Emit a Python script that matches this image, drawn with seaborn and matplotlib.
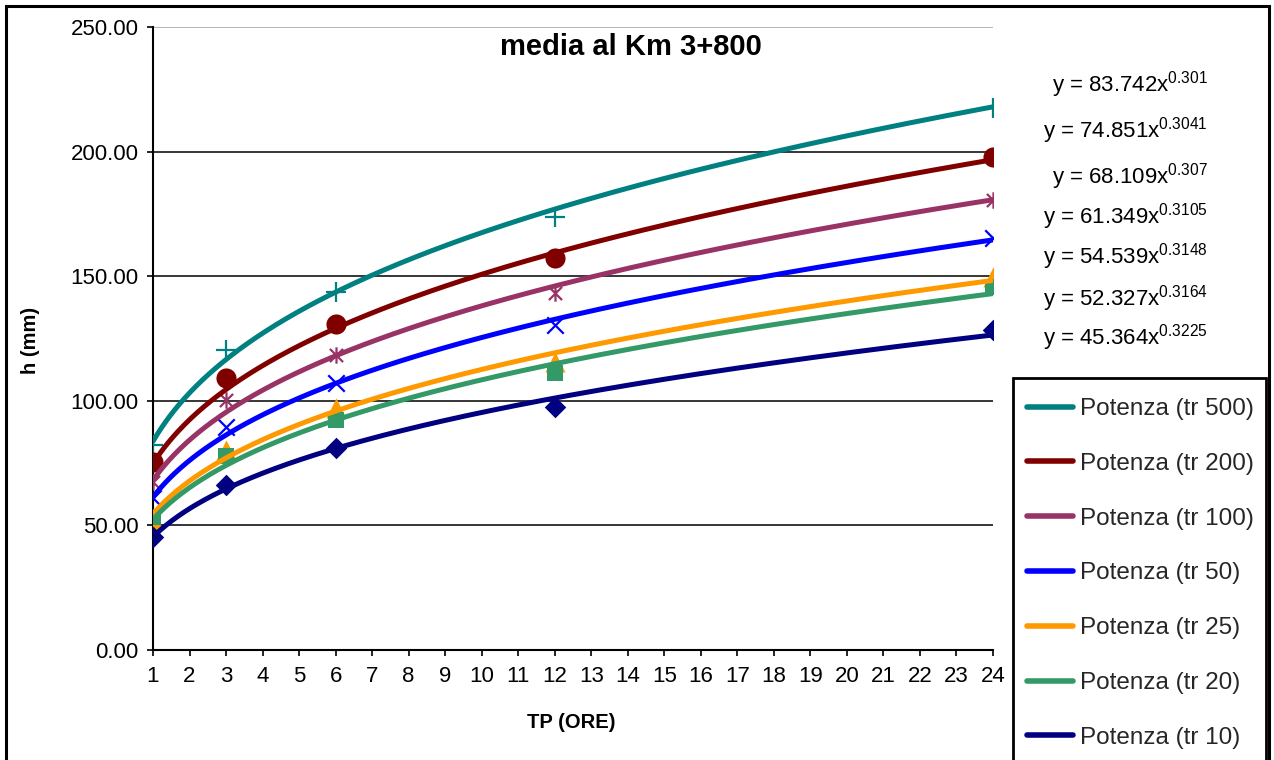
import numpy as np
import pandas as pd
import matplotlib
matplotlib.use("Agg")
import matplotlib.pyplot as plt
import seaborn as sns
from matplotlib.path import Path
from matplotlib.patches import Rectangle

# ---------------- data ----------------
hours = [1, 3, 6, 12, 24]
series = ["tr 500", "tr 200", "tr 100", "tr 50", "tr 25", "tr 20", "tr 10"]
h_tr500 = [82.3, 120.4, 143.8, 173.9, 217.4]
h_tr200 = [75.6, 109.0, 131.0, 157.2, 198.0]
h_tr100 = [67.5, 100.3, 118.4, 143.1, 180.6]
h_tr50 = [61.0, 89.6, 107.0, 130.4, 165.2]
h_tr25 = [52.2, 80.3, 97.0, 115.7, 149.8]
h_tr20 = [53.5, 78.0, 92.3, 111.3, 145.8]
h_tr10 = [45.5, 66.2, 81.0, 97.6, 128.4]
# power trend line coefficients  y = a * x^b  (as printed on the chart)
coef_a = [83.742, 74.851, 68.109, 61.349, 54.539, 52.327, 45.364]
coef_b = ["0.301", "0.3041", "0.307", "0.3105", "0.3148", "0.3164", "0.3225"]
x_ticks = list(range(1, 25))
y_ticks = [0, 50, 100, 150, 200, 250]
title = "media al Km 3+800"
x_label = "TP (ORE)"
y_label = "h (mm)"

h_values = [h_tr500, h_tr200, h_tr100, h_tr50, h_tr25, h_tr20, h_tr10]

# ---------------- style ----------------
colors = ["#008080", "#800000", "#993366", "#0000FF", "#FF9900", "#339966", "#000080"]
star = Path([(-1, -1), (1, 1), (-1, 1), (1, -1), (0, -1.25), (0, 1.25)],
            [Path.MOVETO, Path.LINETO, Path.MOVETO, Path.LINETO, Path.MOVETO, Path.LINETO])
markers = ["+", "o", star, "x", "^", "s", "D"]
msizes = [190, 210, 140, 140, 210, 140, 120]

sns.set_theme(style="white")
plt.rcParams["font.family"] = ["Liberation Sans", "DejaVu Sans"]
plt.rcParams["mathtext.fontset"] = "custom"
plt.rcParams["mathtext.rm"] = "Liberation Sans"
plt.rcParams["mathtext.it"] = "Liberation Sans:italic"

W, H = 1274, 760
fig = plt.figure(figsize=(W / 100, H / 100), dpi=100)
fig.patch.set_facecolor("white")
L, R, T, B = 153, 993, 27, 650
ax = fig.add_axes([L / W, 1 - B / H, (R - L) / W, (B - T) / H])

# data markers
for name, vals, col, mk, ms in zip(series, h_values, colors, markers, msizes):
    dfp = pd.DataFrame({"x": hours, "y": vals})
    filled = mk in ("o", "^", "s", "D")
    sns.scatterplot(data=dfp, x="x", y="y", ax=ax, marker=mk, s=ms,
                    color=col, edgecolor=col,
                    linewidth=0 if filled else 1.6, zorder=3, legend=False)

# power trend lines
xs = np.linspace(min(x_ticks), max(x_ticks), 400)
rows = []
for name, a, b in zip(series, coef_a, coef_b):
    for xv in xs:
        rows.append({"x": xv, "y": a * xv ** float(b), "serie": f"Potenza ({name})"})
df = pd.DataFrame(rows)
labels = [f"Potenza ({n})" for n in series]
sns.lineplot(data=df, x="x", y="y", hue="serie", hue_order=labels,
             palette=colors, linewidth=3.6, ax=ax, zorder=4, legend=True)

# axes
ax.set_xlim(min(x_ticks), max(x_ticks))
ax.set_ylim(min(y_ticks), max(y_ticks))
ax.set_xticks(x_ticks)
ax.set_xticklabels([str(v) for v in x_ticks])
ax.set_yticks(y_ticks)
ax.set_yticklabels([f"{v:.2f}" for v in y_ticks])
ax.tick_params(axis="both", labelsize=16, colors="black", direction="out",
               length=4.5, width=1.2)
ax.tick_params(axis="x", pad=7)
ax.tick_params(axis="y", pad=6)
ax.tick_params(bottom=True, left=True)
ax.yaxis.grid(True, color="black", linewidth=1.1)
ax.xaxis.grid(False)
ax.yaxis.get_gridlines()[-1].set_color("#A0A0A0")
for s in ["top", "right"]:
    ax.spines[s].set_visible(False)
for s in ["left", "bottom"]:
    ax.spines[s].set_color("black")
    ax.spines[s].set_linewidth(1.5)
ax.set_axisbelow(True)

ax.set_xlabel(x_label, fontsize=14.5, fontweight="bold", color="black")
ax.set_ylabel(y_label, fontsize=14.5, fontweight="bold", color="black")
ax.xaxis.set_label_coords((571 - L) / (R - L), (B - 713) / (B - T))
ax.yaxis.set_label_coords((40 - L) / (R - L), (B - 340) / (B - T))

fig.text(631 / W, 1 - 47 / H, title, ha="center", va="center",
         fontsize=21, fontweight="bold", color="black")

# trend equations
eq_y = [91, 138, 184, 224, 264, 306, 344]
for a, b, yy in zip(coef_a, coef_b, eq_y):
    fig.text(1208 / W, 1 - yy / H, f"y = {a:g}x$^{{{b}}}$", ha="right",
             va="baseline", fontsize=16, color="black")

# legend (frame drawn separately, it runs past the bottom edge)
handles, labs = ax.get_legend_handles_labels()
ax.get_legend().remove()
leg = fig.legend(handles, labs, loc="upper left",
                 bbox_to_anchor=(1027 / W, 1 - 398 / H), bbox_transform=fig.transFigure,
                 fontsize=17.5, frameon=False, borderaxespad=0,
                 borderpad=0, labelspacing=1.35, handlelength=1.9,
                 handletextpad=0.3)
for lh in leg.get_lines():
    lh.set_linewidth(4)
fig.patches.append(Rectangle((1013 / W, -0.05), (1266 - 1013) / W, (760 - 378) / H + 0.05,
                             transform=fig.transFigure, fill=False,
                             edgecolor="black", linewidth=2, clip_on=False))

# outer chart border
fig.patches.append(Rectangle((6 / W, -0.05), (1269 - 6) / W, 1 - 6 / H + 0.05,
                             transform=fig.transFigure, fill=False,
                             edgecolor="black", linewidth=2.2, clip_on=False))

fig.savefig("out.png", dpi=100)
